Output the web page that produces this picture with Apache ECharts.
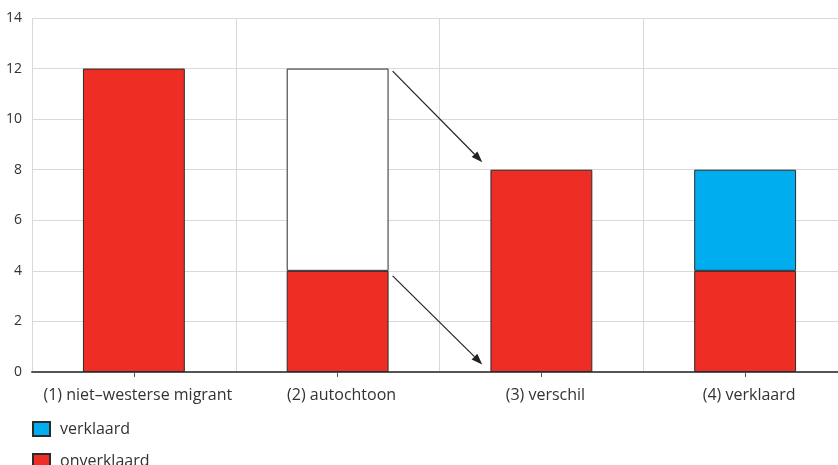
<!DOCTYPE html>
<html>
<head>
<meta charset="utf-8">
<script src="https://cdn.jsdelivr.net/npm/echarts@6/dist/echarts.min.js"></script>
<style>
html,body{margin:0;padding:0;background:#fff;overflow:hidden;width:838px;height:465px;}
#main{width:847px;height:465px;}
</style>
</head>
<body>
<div id="main"></div>
<script>
var categories = ['(1) niet–westerse migrant', '(2) autochtoon', '(3) verschil', '(4) verklaard'];
var onverklaard = [12, 4, 8, 4];
var restant = ['-', 8, '-', '-'];
var verklaard = ['-', '-', '-', 4];
// arrows: [fromCategoryIndex, fromValue, toCategoryIndex, toValue]
var arrows = [
  [1, 11.9, 2, 8.3],
  [1, 3.8, 2, 0.3]
];

var FONT = 'Open Sans';
var chart = echarts.init(document.getElementById('main'));
var border = {borderColor: '#2b2b2b', borderWidth: 1};
chart.setOption({
  animation: false,
  textStyle: {fontFamily: FONT},
  grid: {left: 32, right: 0, top: 18, height: 354, containLabel: false},
  legend: {
    data: ['verklaard', 'onverklaard'],
    orient: 'vertical',
    left: 32,
    top: 421,
    padding: 0,
    height: 60,
    itemWidth: 17,
    itemHeight: 14,
    itemGap: 16,
    icon: 'rect',
    textStyle: {fontFamily: FONT, fontSize: 16, color: '#333', padding: [0, 0, 0, 5]},
    selectedMode: false
  },
  xAxis: {
    type: 'category',
    data: categories,
    axisLine: {lineStyle: {color: '#555', width: 2}},
    axisTick: {show: true, alignWithLabel: true, interval: 0, length: 5, lineStyle: {color: '#555'}},
    axisLabel: {fontFamily: FONT, fontSize: 16, color: '#333', margin: 15, interval: 0, padding: [0, 0, 0, 8]},
    splitLine: {show: true, interval: 0, lineStyle: {color: '#d9d9d9', width: 1}}
  },
  yAxis: {
    type: 'value',
    min: 0, max: 14, interval: 2,
    axisLine: {show: false},
    axisTick: {show: false},
    axisLabel: {fontFamily: FONT, fontSize: 14, color: '#333', margin: 10},
    splitLine: {lineStyle: {color: '#d9d9d9', width: 1}}
  },
  series: [
    {name: 'onverklaard', type: 'bar', stack: 's', barWidth: '50%', data: onverklaard,
     itemStyle: Object.assign({color: '#EE2E24'}, border)},
    {name: 'restant', type: 'bar', stack: 's', data: restant,
     itemStyle: Object.assign({color: '#ffffff'}, border)},
    {name: 'verklaard', type: 'bar', stack: 's', data: verklaard,
     itemStyle: Object.assign({color: '#00AEEF'}, border)}
  ]
});

function drawArrows() {
  var els = [];
  arrows.forEach(function (a) {
    var c1 = chart.convertToPixel({gridIndex: 0}, [a[0], a[1]]);
    var c2 = chart.convertToPixel({gridIndex: 0}, [a[2], a[3]]);
    var band = c2[0] - c1[0];
    var x1 = c1[0] + 0.27 * band, y1 = c1[1];
    var x2 = c2[0] - 0.29 * band, y2 = c2[1];
    var ang = Math.atan2(y2 - y1, x2 - x1);
    var L = 11, W = 4;
    var bx = x2 - L * Math.cos(ang), by = y2 - L * Math.sin(ang);
    els.push({type: 'line', shape: {x1: x1, y1: y1, x2: bx, y2: by},
      style: {stroke: '#222', lineWidth: 1.2}, z: 100});
    els.push({type: 'polygon', shape: {points: [
      [x2, y2],
      [bx + W * Math.sin(ang), by - W * Math.cos(ang)],
      [bx - W * Math.sin(ang), by + W * Math.cos(ang)]
    ]}, style: {fill: '#222'}, z: 100});
  });
  chart.setOption({graphic: els});
}
drawArrows();
</script>
</body>
</html>
